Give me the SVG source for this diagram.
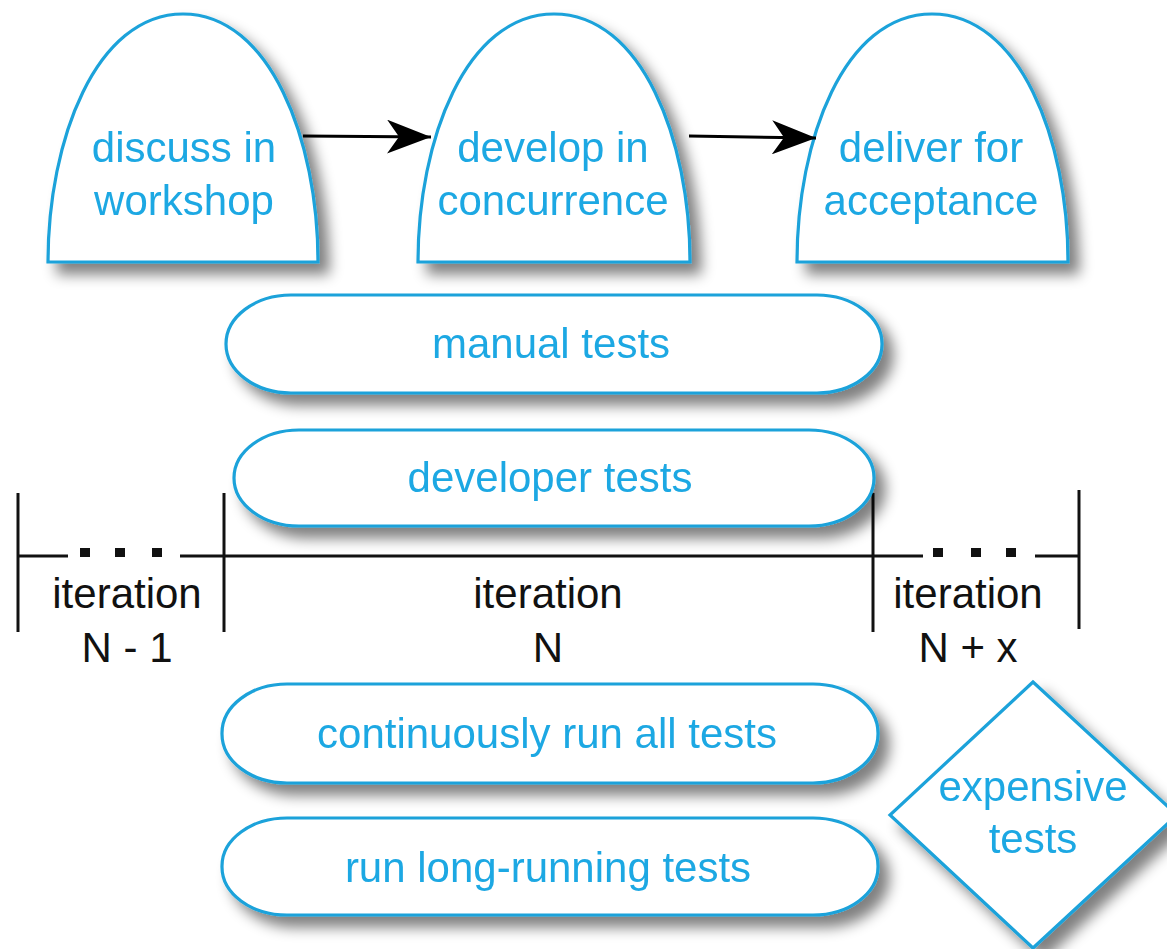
<svg xmlns="http://www.w3.org/2000/svg" width="1167" height="949" viewBox="0 0 1167 949">
<style>
.node{fill:#fff;stroke:#1aa2da;stroke-width:3.2}
.lbl{font-family:"Liberation Sans",Arial,Helvetica,sans-serif;font-size:42px;fill:#1fa8e3;text-anchor:middle}
.blk{font-family:"Liberation Sans",Arial,Helvetica,sans-serif;font-size:42px;fill:#111;text-anchor:middle}
.tl{stroke:#111;stroke-width:3;fill:none}
.conn{stroke:#000;stroke-width:3;fill:none}
</style>
<defs>
<filter id="sh" x="-10%" y="-10%" width="130%" height="140%">
<feGaussianBlur in="SourceAlpha" stdDeviation="7"/>
<feOffset dx="10" dy="11" result="b"/>
<feComponentTransfer><feFuncA type="linear" slope="0.5"/></feComponentTransfer>
<feMerge><feMergeNode/><feMergeNode in="SourceGraphic"/></feMerge>
</filter>
<marker id="arr" markerUnits="userSpaceOnUse" viewBox="0 0 44 34" refX="44" refY="17" markerWidth="44" markerHeight="34" orient="auto">
<path d="M0,0 L44,17 L0,34 L12,17 Z" fill="#000"/>
</marker>
</defs>
<rect width="1167" height="949" fill="#fff"/>

<g id="timeline">
<line class="tl" x1="18" y1="493" x2="18" y2="632"/>
<line class="tl" x1="224" y1="493" x2="224" y2="632"/>
<line class="tl" x1="873" y1="493" x2="873" y2="632"/>
<line class="tl" x1="1079" y1="490" x2="1079" y2="629"/>
<line class="tl" x1="18" y1="556" x2="68" y2="556"/>
<line class="tl" x1="180" y1="556" x2="923" y2="556"/>
<line class="tl" x1="1035" y1="556" x2="1079" y2="556"/>
<rect x="80" y="548" width="10" height="9" fill="#111"/>
<rect x="115" y="548" width="10" height="9" fill="#111"/>
<rect x="152" y="548" width="10" height="9" fill="#111"/>
<rect x="933" y="548" width="10" height="9" fill="#111"/>
<rect x="971" y="548" width="10" height="9" fill="#111"/>
<rect x="1006" y="548" width="10" height="9" fill="#111"/>
<text class="blk" x="127" y="608">iteration</text>
<text class="blk" x="127" y="662">N - 1</text>
<text class="blk" x="548" y="608">iteration</text>
<text class="blk" x="548" y="662">N</text>
<text class="blk" x="968" y="608">iteration</text>
<text class="blk" x="968" y="662">N + x</text>
</g>

<g id="discuss" filter="url(#sh)">
<path class="node" d="M48,262 L318,262 C318,140 270,14 183,14 C96,14 48,140 48,262 Z"/>
<text class="lbl" x="184" y="162">discuss in</text>
<text class="lbl" x="184" y="215">workshop</text>
</g>
<g id="develop" filter="url(#sh)">
<path class="node" d="M418,262 L690,262 C690,140 642,14 554,14 C466,14 418,140 418,262 Z"/>
<text class="lbl" x="553" y="162">develop in</text>
<text class="lbl" x="553" y="215">concurrence</text>
</g>
<g id="deliver" filter="url(#sh)">
<path class="node" d="M797,262 L1068,262 C1068,140 1020,14 932,14 C844,14 797,140 797,262 Z"/>
<text class="lbl" x="931" y="162">deliver for</text>
<text class="lbl" x="931" y="215">acceptance</text>
</g>

<g id="manual" filter="url(#sh)">
<rect class="node" x="226" y="295" width="656" height="98" rx="65" ry="49"/>
<text class="lbl" x="551" y="358">manual tests</text>
</g>
<g id="developer" filter="url(#sh)">
<rect class="node" x="234" y="430" width="640" height="96" rx="65" ry="48"/>
<text class="lbl" x="550" y="492">developer tests</text>
</g>
<g id="continuous" filter="url(#sh)">
<rect class="node" x="222" y="684" width="656" height="99" rx="65" ry="49"/>
<text class="lbl" x="547" y="748">continuously run all tests</text>
</g>
<g id="longrunning" filter="url(#sh)">
<rect class="node" x="222" y="818" width="656" height="97" rx="65" ry="48"/>
<text class="lbl" x="548" y="882">run long-running tests</text>
</g>
<g id="expensive" filter="url(#sh)">
<path class="node" d="M1033,682 L1177,815 L1033,948 L890,815 Z"/>
<text class="lbl" x="1033" y="801">expensive</text>
<text class="lbl" x="1033" y="853">tests</text>
</g>

<g id="connectors">
<line class="conn" x1="303" y1="136" x2="431" y2="137" marker-end="url(#arr)"/>
<line class="conn" x1="689" y1="136" x2="816" y2="138" marker-end="url(#arr)"/>
</g>
</svg>
